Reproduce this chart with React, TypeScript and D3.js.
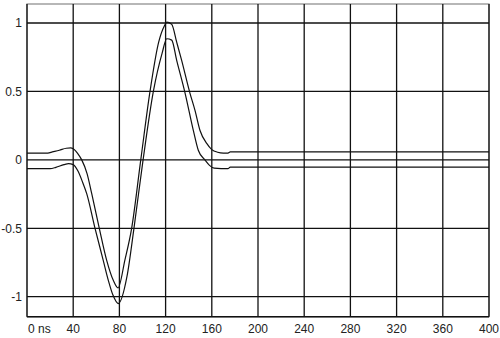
import React from "react";
import * as d3 from "d3";

// time in ns
const upperT = [0, 10, 18, 22, 28, 34, 38, 41, 44, 47.4, 52, 56, 62.6, 69, 74.7, 78.8, 84.8, 90.6, 98.5, 106.5, 114, 119, 121, 125.3, 129.6, 133.9, 141, 145.5, 149.8, 155.6, 160, 165, 170, 174, 176, 200, 400];
const upperV = [0.05, 0.05, 0.05, 0.058, 0.07, 0.085, 0.087, 0.075, 0.045, 0.0, -0.1, -0.245, -0.5, -0.734, -0.88, -0.936, -0.73, -0.5, 0.0, 0.5, 0.86, 0.98, 1.006, 0.99, 0.86, 0.727, 0.49, 0.36, 0.215, 0.12, 0.075, 0.056, 0.05, 0.05, 0.058, 0.058, 0.058];

const lowerT = [0, 10, 20, 25, 32, 36, 40, 44, 48, 51.7, 58.9, 66, 70.4, 74.5, 79, 86.6, 92.6, 100.5, 109.4, 117, 121, 125.3, 129.6, 136.8, 144, 148.3, 154, 158, 162, 174, 176, 200, 400];
const lowerV = [-0.064, -0.064, -0.064, -0.055, -0.035, -0.028, -0.035, -0.08, -0.16, -0.247, -0.5, -0.734, -0.88, -0.99, -1.05, -0.85, -0.5, 0.0, 0.5, 0.78, 0.885, 0.875, 0.727, 0.49, 0.215, 0.07, 0.0, -0.04, -0.06, -0.064, -0.053, -0.053, -0.053];

const xTicks = [0, 40, 80, 120, 160, 200, 240, 280, 320, 360, 400];
const xTickLabels = ["0 ns", "40", "80", "120", "160", "200", "240", "280", "320", "360", "400"];
const yTicks = [1, 0.5, 0, -0.5, -1];
const yTickLabels = ["1", "0.5", "0", "-0.5", "-1"];

export default function App() {
  const W = 500;
  const H = 338;
  const left = 27, right = 489, top = 4, bottom = 316.7;
  const x = d3.scaleLinear().domain([0, 400]).range([left, right]);
  const y = d3.scaleLinear().domain([-1.146, 1.139]).range([bottom, top]);

  const line = d3
    .line<[number, number]>()
    .x((d) => x(d[0]))
    .y((d) => y(d[1]))
    .curve(d3.curveMonotoneX);

  const upper: [number, number][] = upperT.map((t, i) => [t, upperV[i]]);
  const lower: [number, number][] = lowerT.map((t, i) => [t, lowerV[i]]);

  const font = "'Liberation Sans', Arial, Helvetica, sans-serif";

  return (
    <svg
      width={W}
      height={H}
      style={{ position: "absolute", left: 0, top: 0, background: "#fff" }}
    >
      <rect x={left} y={top} width={right - left} height={bottom - top} fill="#fff" stroke="#888" strokeWidth={1.2} />
      {xTicks.map((t) => (
        <line key={"vx" + t} x1={x(t)} x2={x(t)} y1={top} y2={bottom} stroke="#111" strokeWidth={1.3} />
      ))}
      {yTicks.map((v) => (
        <line key={"hy" + v} x1={left} x2={right} y1={y(v)} y2={y(v)} stroke="#111" strokeWidth={1.3} />
      ))}
      <line x1={left} x2={right} y1={bottom} y2={bottom} stroke="#111" strokeWidth={1.5} />
      <path d={line(upper) ?? ""} fill="none" stroke="#111" strokeWidth={1.2} />
      <path d={line(lower) ?? ""} fill="none" stroke="#111" strokeWidth={1.2} />
      {yTicks.map((v, i) => (
        <text
          key={"yl" + v}
          x={22}
          y={y(v)}
          dy="0.36em"
          textAnchor="end"
          fontFamily={font}
          fontSize={12}
          fill="#222"
        >
          {yTickLabels[i]}
        </text>
      ))}
      {xTicks.map((t, i) => (
        <text
          key={"xl" + t}
          x={x(t) + (i === 0 ? 1 : 0)}
          y={333}
          textAnchor={i === 0 ? "start" : "middle"}
          fontFamily={font}
          fontSize={12}
          fill="#222"
        >
          {xTickLabels[i]}
        </text>
      ))}
    </svg>
  );
}
